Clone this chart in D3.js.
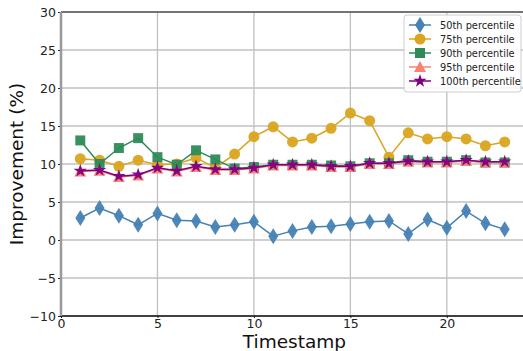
<!DOCTYPE html>
<html>
<head>
<meta charset="utf-8">
<script src="https://cdn.jsdelivr.net/npm/d3@7"></script>
<style>
body { margin: 0; background: #fff; }
text { font-family: "DejaVu Sans", sans-serif; }
</style>
</head>
<body>
<div id="chart"></div>
<script>
// data
var timestamps = [1,2,3,4,5,6,7,8,9,10,11,12,13,14,15,16,17,18,19,20,21,22,23];
var p50  = [2.9,4.2,3.2,2.0,3.5,2.6,2.5,1.7,2.0,2.4,0.5,1.2,1.7,1.8,2.1,2.4,2.5,0.8,2.7,1.6,3.8,2.2,1.4];
var p75  = [10.7,10.5,9.7,10.5,9.9,10.0,10.8,9.5,11.3,13.6,14.9,12.9,13.4,14.7,16.7,15.7,10.9,14.1,13.3,13.6,13.3,12.4,12.9];
var p90  = [13.1,10.0,12.1,13.4,10.9,9.9,11.8,10.6,9.4,9.6,9.9,9.9,9.9,9.8,9.7,10.1,10.1,10.5,10.3,10.3,10.5,10.2,10.2];
var p95  = [9.0,9.1,8.3,8.5,9.4,9.0,9.6,9.2,9.2,9.4,9.8,9.8,9.8,9.6,9.6,10.0,10.0,10.3,10.2,10.2,10.4,10.2,10.2];
var p100 = [9.1,9.2,8.4,8.6,9.5,9.1,9.7,9.3,9.3,9.5,9.9,9.9,9.9,9.7,9.7,10.1,10.1,10.4,10.3,10.3,10.5,10.3,10.3];
var xTicks = [0,5,10,15,20];
var yTicks = [-10,-5,0,5,10,15,20,25,30];

var series = [
  {name: "50th percentile",  values: p50,  color: "#4682b4", marker: "diamond"},
  {name: "75th percentile",  values: p75,  color: "#daa520", marker: "circle"},
  {name: "90th percentile",  values: p90,  color: "#2e8b57", marker: "square"},
  {name: "95th percentile",  values: p95,  color: "#fa8072", marker: "triangle"},
  {name: "100th percentile", values: p100, color: "#800080", marker: "star"}
];

var W = 523, H = 351;
var margin = {t: 12, r: 0, b: 35, l: 61};
var width = W - margin.l - margin.r,
    height = H - margin.t - margin.b;

var svg = d3.select('#chart').append('svg')
    .attr('width', W)
    .attr('height', H);

var scaleX = d3.scaleLinear().domain([0, 24]).range([0, 463]);
var scaleY = d3.scaleLinear().domain([-10, 30]).range([height, 0]);

var plot = svg.append('g').attr('transform', 'translate(' + margin.l + ',' + margin.t + ')');

// grid
plot.append('g').selectAll('line').data(xTicks).enter().append('line')
    .attr('x1', function(d){ return scaleX(d); }).attr('x2', function(d){ return scaleX(d); })
    .attr('y1', 0).attr('y2', height)
    .attr('stroke', '#c0c0c0').attr('stroke-width', 1.3);
plot.append('g').selectAll('line').data(yTicks).enter().append('line')
    .attr('y1', function(d){ return scaleY(d); }).attr('y2', function(d){ return scaleY(d); })
    .attr('x1', 0).attr('x2', width)
    .attr('stroke', '#c0c0c0').attr('stroke-width', 1.3);

// axes
var axisX = d3.axisBottom(scaleX).tickValues(xTicks).tickSize(2).tickPadding(1);
var axisY = d3.axisLeft(scaleY).tickValues(yTicks).tickSize(3).tickPadding(2)
    .tickFormat(function(d){ return d < 0 ? '\u2212' + Math.abs(d) : d; });

var gx = plot.append('g').attr('transform', 'translate(0,' + height + ')').call(axisX);
var gy = plot.append('g').call(axisY);
gx.select('.domain').remove();
gy.select('.domain').remove();
gx.selectAll('text').attr('font-size', 12.5).attr('fill', '#222').attr('font-family', 'DejaVu Sans');
gy.selectAll('text').attr('font-size', 12.5).attr('fill', '#222').attr('font-family', 'DejaVu Sans');
gx.selectAll('line').attr('stroke', '#222');
gy.selectAll('line').attr('stroke', '#222');

// spines
plot.append('line').attr('x1', 0).attr('x2', width).attr('y1', 0).attr('y2', 0)
    .attr('stroke', '#555').attr('stroke-width', 1.5);
plot.append('line').attr('x1', 0).attr('x2', width).attr('y1', height).attr('y2', height)
    .attr('stroke', '#111').attr('stroke-width', 1.5);
plot.append('line').attr('x1', 0).attr('x2', 0).attr('y1', 0).attr('y2', height)
    .attr('stroke', '#999').attr('stroke-width', 2.5);

// marker shapes
function markerPath(type) {
  if (type === 'diamond') return 'M0,-8L5,0L0,8L-5,0Z';
  if (type === 'circle') return d3.symbol().type(d3.symbolCircle).size(95)();
  if (type === 'square') return 'M-5,-5H5V5H-5Z';
  if (type === 'triangle') return 'M0,-6L6,5L-6,5Z';
  return d3.symbol().type(d3.symbolStar).size(55)();
}

var line = d3.line()
    .x(function(d, i){ return scaleX(timestamps[i]); })
    .y(function(d){ return scaleY(d); });

series.forEach(function(s){
  var g = plot.append('g');
  g.append('path').datum(s.values)
    .attr('d', line)
    .attr('fill', 'none')
    .attr('stroke', s.color)
    .attr('stroke-width', 1.5);
  g.selectAll('path.mk').data(s.values).enter().append('path')
    .attr('class', 'mk')
    .attr('d', markerPath(s.marker))
    .attr('transform', function(d, i){ return 'translate(' + scaleX(timestamps[i]) + ',' + scaleY(d) + ')'; })
    .attr('fill', s.color)
    .attr('fill-opacity', 0.95);
});

// axis titles
svg.append('text').attr('x', margin.l + scaleX(12.1)).attr('y', 348)
    .attr('text-anchor', 'middle').attr('font-size', 18.5).attr('fill', '#111').text('Timestamp');
svg.append('text').attr('transform', 'translate(23,' + (margin.t + height / 2) + ') rotate(-90)')
    .attr('text-anchor', 'middle').attr('font-size', 18.5).attr('fill', '#111').text('Improvement (%)');

// legend
var legend = svg.append('g').attr('transform', 'translate(404,15)');
legend.append('rect').attr('width', 117).attr('height', 77).attr('rx', 3)
    .attr('fill', '#fff').attr('fill-opacity', 0.85).attr('stroke', '#ccc');
series.forEach(function(s, i){
  var y = 10 + i * 14;
  legend.append('line').attr('x1', 5).attr('x2', 27).attr('y1', y).attr('y2', y)
    .attr('stroke', s.color).attr('stroke-width', 1.5);
  legend.append('path').attr('d', markerPath(s.marker))
    .attr('transform', 'translate(16,' + y + ')').attr('fill', s.color);
  legend.append('text').attr('x', 36).attr('y', y + 3.5)
    .attr('font-size', 9.8).attr('fill', '#222').text(s.name);
});
</script>
</body>
</html>
